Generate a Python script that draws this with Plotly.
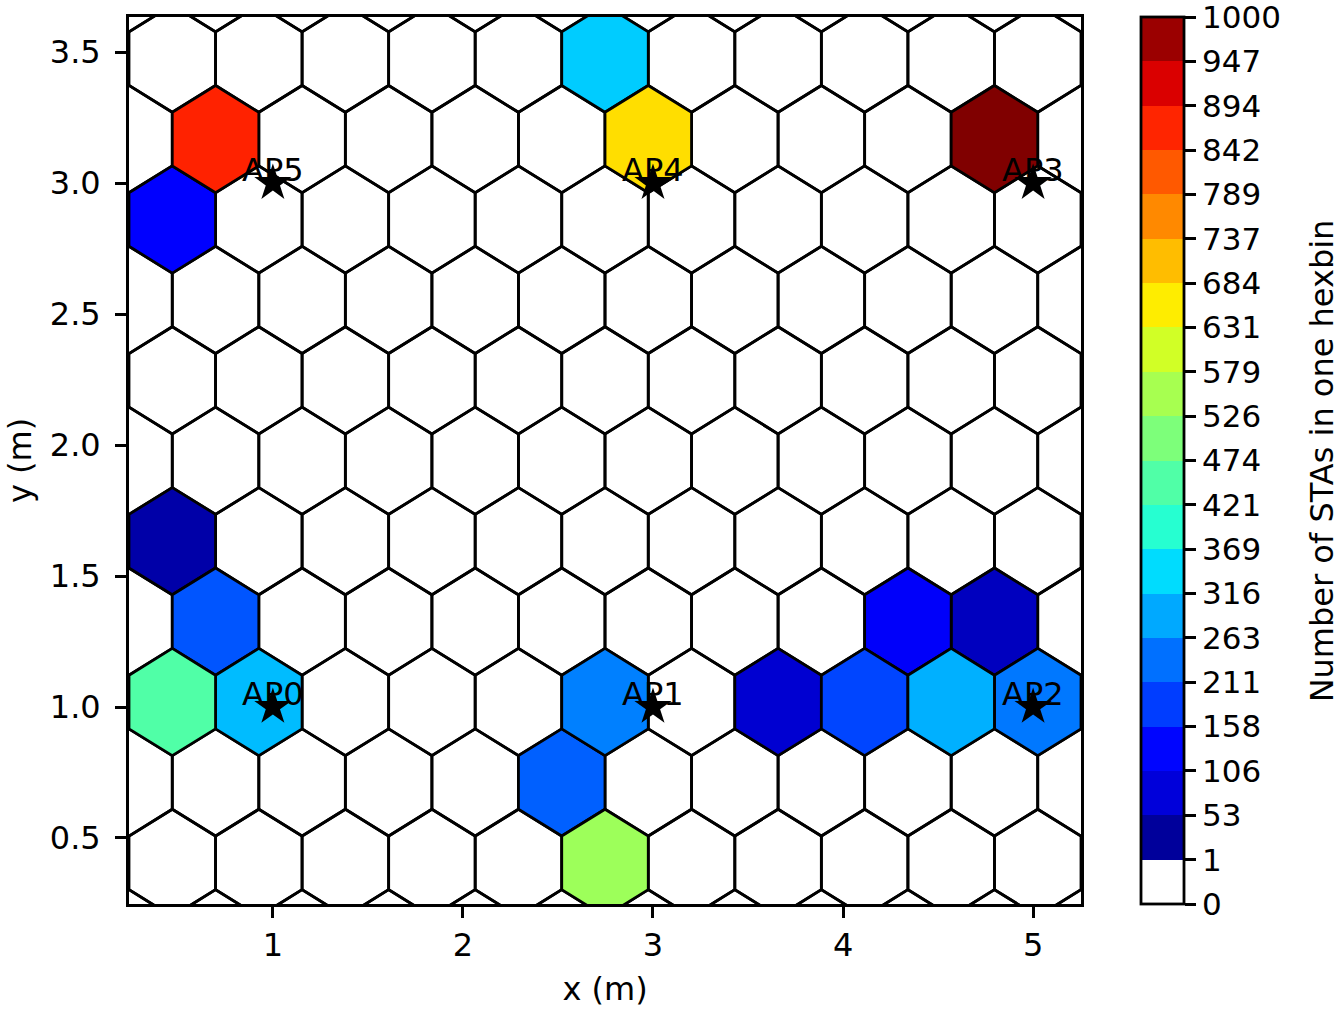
import numpy as np
import plotly.graph_objects as go


# hexbin lattice (matplotlib style: gridsize 11 across x)
X_RANGE = [0.243, 5.252]
Y_RANGE = [0.248, 3.634]
GRID_NX = 11
GRID_NY = 6
GRID_Y0 = 0.098
GRID_SY = 0.614

# non-empty hexbins: lattice (1 = main, 2 = offset), column, row, number of STAs
HEX_LATTICE = [2, 1, 1, 1, 2, 2, 1, 2, 2, 2, 1, 2, 2, 2, 2, 2, 1, 1]
HEX_COL = [5, 6, 10, 1, 0, 0, 1, 0, 1, 5, 5, 5, 7, 8, 9, 10, 9, 10]
HEX_ROW = [5, 5, 5, 5, 4, 2, 2, 1, 1, 1, 1, 0, 1, 1, 1, 1, 2, 2]
HEX_COUNT = [325, 672, 1000, 872, 118, 37, 208, 448, 312, 250, 219, 540, 72, 195, 297, 243, 108, 58]

# access points
AP_NAMES = ["AP0", "AP1", "AP2", "AP3", "AP4", "AP5"]
AP_X = [1, 3, 5, 5, 3, 1]
AP_Y = [1, 1, 1, 3, 3, 3]

CBAR_TICKS = [0, 1, 53, 106, 158, 211, 263, 316, 369, 421, 474, 526, 579, 631, 684, 737, 789, 842, 894, 947, 1000]
CBAR_TITLE = "Number of STAs in one hexbin"
VMAX = 1000

X_TICKS = [1, 2, 3, 4, 5]
Y_TICKS = [0.5, 1.0, 1.5, 2.0, 2.5, 3.0, 3.5]

FONT = "DejaVu Sans"
FS = 32

JET = {
    "r": [(0, 0), (0.35, 0), (0.66, 1), (0.89, 1), (1, 0.5)],
    "g": [(0, 0), (0.125, 0), (0.375, 1), (0.64, 1), (0.91, 0), (1, 0)],
    "b": [(0, 0.5), (0.11, 1), (0.34, 1), (0.65, 0), (1, 0)],
}


def jet(t):
    out = []
    for c in "rgb":
        xp, fp = zip(*JET[c])
        out.append(float(np.interp(t, xp, fp)))
    return out


def count_color(v):
    # jet with the lowest lut entry replaced by white
    idx = min(int(v / VMAX * 256), 255)
    if idx <= 0:
        return "rgb(255,255,255)"
    r, g, b = jet(idx / 255)
    return f"rgb({round(r * 255)},{round(g * 255)},{round(b * 255)})"


sx = (X_RANGE[1] - X_RANGE[0]) / GRID_NX
hex_dx = np.array([0.5, 0.5, 0, -0.5, -0.5, 0, 0.5]) * sx
hex_dy = np.array([-0.5, 0.5, 1, 0.5, -0.5, -1, -0.5]) * GRID_SY / 3


def hex_center(lat, i, j):
    if lat == 1:
        return X_RANGE[0] + i * sx, GRID_Y0 + j * GRID_SY
    return X_RANGE[0] + (i + 0.5) * sx, GRID_Y0 + (j + 0.5) * GRID_SY


counts = {}
for i in range(GRID_NX + 1):
    for j in range(GRID_NY + 1):
        counts[(1, i, j)] = 0
for i in range(GRID_NX):
    for j in range(GRID_NY):
        counts[(2, i, j)] = 0
for lat, i, j, c in zip(HEX_LATTICE, HEX_COL, HEX_ROW, HEX_COUNT):
    counts[(lat, i, j)] = c

groups = {}
for key, c in sorted(counts.items(), key=lambda kv: kv[1]):
    groups.setdefault(count_color(c), []).append(key)

fig = go.Figure()
for color, cells in groups.items():
    xs, ys = [], []
    for lat, i, j in cells:
        cx, cy = hex_center(lat, i, j)
        xs += list(cx + hex_dx) + [None]
        ys += list(cy + hex_dy) + [None]
    fig.add_trace(go.Scatter(
        x=xs, y=ys, mode="lines", fill="toself", fillcolor=color,
        line={"color": "black", "width": 2.8}, hoverinfo="skip", showlegend=False,
    ))

fig.add_trace(go.Scatter(
    x=AP_X, y=AP_Y, mode="markers", showlegend=False,
    marker={"symbol": "star", "size": 28, "color": "black"},
))

# discrete colour bar: white for 0-1, then jet at each band's middle
n_bands = len(CBAR_TICKS) - 1
colorscale = []
for k in range(n_bands):
    col = count_color((CBAR_TICKS[k] + CBAR_TICKS[k + 1]) / 2)
    colorscale += [[k / n_bands, col], [(k + 1) / n_bands, col]]

fig.add_trace(go.Scatter(
    x=[None], y=[None], mode="markers", showlegend=False, hoverinfo="skip",
    marker={
        "color": [0], "cmin": 0, "cmax": n_bands, "colorscale": colorscale, "showscale": True,
        "colorbar": {
            "x": 1.063, "xanchor": "left", "xpad": 0, "ypad": 0,
            "y": 0.5, "yanchor": "middle", "len": 1, "lenmode": "fraction",
            "thickness": 43, "thicknessmode": "pixels",
            "outlinecolor": "black", "outlinewidth": 2.8,
            "tickvals": list(range(n_bands + 1)), "ticktext": [str(t) for t in CBAR_TICKS],
            "ticks": "outside", "ticklen": 11, "tickwidth": 2.6, "tickcolor": "black",
            "ticklabeloverflow": "allow",
            "tickfont": {"family": FONT, "size": 31, "color": "black"},
        },
    },
))

# colour bar label, rotated, to the right of the tick labels
fig.add_annotation(
    x=1.253, y=0.5, xref="paper", yref="paper", text=CBAR_TITLE, textangle=-90,
    showarrow=False, xanchor="center", yanchor="middle",
    font={"family": FONT, "size": FS, "color": "black"},
)

for name, x, y in zip(AP_NAMES, AP_X, AP_Y):
    fig.add_annotation(
        x=x, y=y, text=name, showarrow=False, xanchor="center", yanchor="bottom",
        yshift=-8, font={"family": FONT, "size": FS, "color": "black"},
    )

axis_style = dict(
    showline=True, mirror=True, linecolor="black", linewidth=2.8,
    ticks="outside", ticklen=11, tickwidth=2.6, tickcolor="black",
    showgrid=False, zeroline=False, automargin=False,
    tickfont={"family": FONT, "size": FS, "color": "black"},
)
fig.update_xaxes(
    range=X_RANGE, tickvals=X_TICKS, ticklabelstandoff=0,
    title={"text": "x (m)", "font": {"family": FONT, "size": FS}, "standoff": 15}, **axis_style,
)
fig.update_yaxes(
    range=Y_RANGE, tickvals=Y_TICKS, tickformat=".1f", ticklabelstandoff=8,
    title={"text": "y (m)", "font": {"family": FONT, "size": FS}, "standoff": 9}, **axis_style,
)

fig.update_layout(
    width=1344, height=1016,
    margin={"l": 129, "r": 263, "t": 17, "b": 112, "autoexpand": False},
    paper_bgcolor="white", plot_bgcolor="white",
    font={"family": FONT, "size": FS, "color": "black"},
)

# drop the default 8px page margin so the figure fills the window
fig.write_html(
    "out.html",
    config={"displayModeBar": False},
    post_script="document.body.style.margin = '0';",
)
